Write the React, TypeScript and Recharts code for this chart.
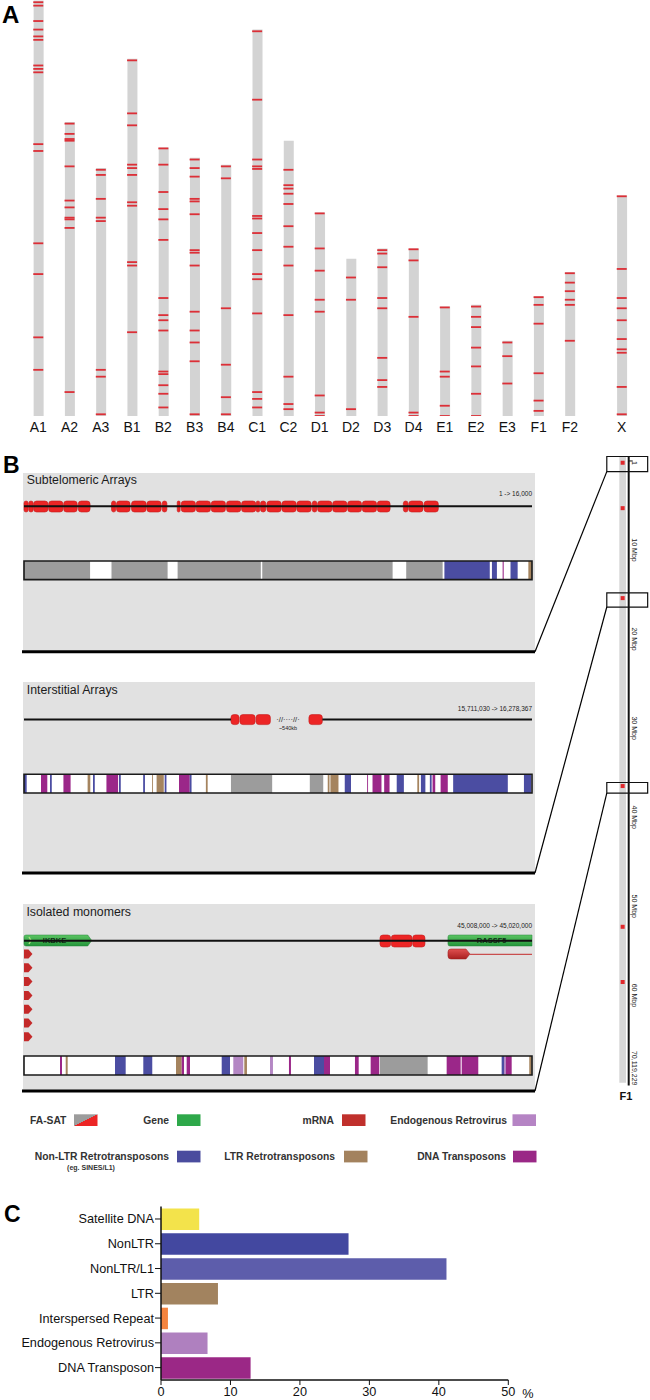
import React from 'react';
import { ComposedChart, BarChart, Bar, Scatter, XAxis, YAxis, Cell, ReferenceArea, ReferenceLine } from 'recharts';

const FONT = '"Liberation Sans", Arial, Helvetica, sans-serif';

// ---------- Panel A: FA-SAT hits along the cat chromosomes ----------
const chromNames = ['A1', 'A2', 'A3', 'B1', 'B2', 'B3', 'B4', 'C1', 'C2', 'D1', 'D2', 'D3', 'D4', 'E1', 'E2', 'E3', 'F1', 'F2', 'X'];
const chromLengthsMbp = [243, 172, 145, 209, 157, 151, 147, 226, 161, 119, 92, 98, 98, 64, 65, 44, 70, 84, 129];
// hit positions, Mbp measured from the top (p-ter) of each chromosome
const faSatHitsMbp = [
  [1, 3, 12, 17, 21, 23, 38, 40, 42, 84, 88, 142, 160, 197, 216],
  [1, 7, 10, 11, 26, 46, 50, 56, 57, 62, 158],
  [1, 4, 18, 29, 31, 118, 122, 144],
  [1, 32, 39, 62, 64, 68, 84, 86, 119, 121, 160],
  [0.5, 10, 26, 36, 42, 54, 88, 98, 101, 107, 131, 132.5, 139, 144, 152],
  [1, 6, 11, 24, 25.5, 33, 54, 55.5, 63, 90, 101, 108, 119, 150],
  [1, 8, 84, 117, 136, 146],
  [1, 41, 76, 80, 81.5, 109, 110.5, 119, 129, 143, 146, 166, 212, 216, 221],
  [17, 26, 28, 31, 37, 50, 62, 73, 102, 138, 154, 157],
  [0.5, 21, 34, 51, 58, 107, 117, 119],
  [11, 24, 88],
  [1, 3, 11, 29, 35, 64, 77, 81],
  [0.5, 7, 40, 96, 98],
  [0.5, 38, 41, 58, 64],
  [1, 7, 13, 25, 36, 52, 65],
  [1, 9, 25],
  [0.5, 5, 16, 45, 61, 67],
  [0.5, 6, 11, 16, 19, 40],
  [0.5, 43, 60, 66, 73, 84, 90, 92, 112, 128],
];

// ---------- Panel B: F1 ideogram ----------
const f1LengthMbp = 70.119229;
const f1HitsMbp = [0.2, 5.3, 15.4, 36.5, 52.3, 58.5];
const f1ZoomBoxesMbp = [[-0.5, 1.2], [14.8, 16.4], [36.1, 37.3]];
const f1Ticks = [0, 10, 20, 30, 40, 50, 60, 70.119229];
const f1TickLabels = ['1', '10 Mbp', '20 Mbp', '30 Mbp', '40 Mbp', '50 Mbp', '60 Mbp', '70,119,229'];

// ---------- Panel B: tracks ----------
// subtelomeric array, bp (1 -> 16,000)
const subtelMonomers = [
  [0, 130], [150, 290], [304, 754], [776, 1226], [1249, 1676], [1710, 2081],
  [2756, 2891], [2914, 3341], [3386, 3848], [3870, 4320], [4354, 4500],
  [4826, 4916], [4950, 5400], [5423, 5873], [5895, 6345], [6379, 6829], [6851, 7301], [7313, 7425],
  [7448, 7616], [7650, 8100], [8123, 8573], [8595, 9045], [9079, 9225], [9248, 9698], [9720, 10170], [10193, 10631], [10654, 11104], [11126, 11531],
  [11948, 12094], [12116, 12566], [12600, 13050],
];
const subtelRepeats: [string, number, number][] = [
  ['sat', 0, 2081], ['sat', 2756, 4523], ['sat', 4838, 7459], ['sat', 7504, 11610], ['sat', 12038, 13185],
  ['nonltr', 13241, 14670], ['nonltr', 14738, 14895], ['dna', 15075, 15109], ['nonltr', 15323, 15548], ['ltr', 15885, 16000],
];

// interstitial array, kb along the drawn track (15,711,030 -> 16,278,367)
const interMonomers = [[231, 240], [241, 258], [259, 275], [318, 333]];
const interLine = [[0, 231], [333, 567]];
const interRepeats: [string, number, number][] = [
  ['nonltr', 0, 3], ['dna', 19, 26], ['nonltr', 29, 31], ['dna', 44, 52], ['ltr', 71, 74], ['nonltr', 77, 79],
  ['dna', 92, 105], ['nonltr', 106, 108], ['nonltr', 133, 135], ['ltr', 143, 144], ['ltr', 148, 156], ['nonltr', 157, 159],
  ['dna', 173, 185], ['nonltr', 185, 187], ['ltr', 203, 205], ['sat', 231, 277], ['sat', 319, 334], ['ltr', 339, 341],
  ['ltr', 342, 351], ['nonltr', 358, 365], ['dna', 383, 384], ['dna', 389, 399], ['dna', 402, 408], ['nonltr', 416, 424],
  ['ltr', 439, 441], ['nonltr', 443, 448], ['nonltr', 453, 455], ['dna', 456, 459], ['dna', 465, 473], ['nonltr', 479, 540],
  ['nonltr', 558, 566],
];

// isolated monomers, bp (45,008,000 -> 45,020,000)
const isoGenes: [string, number, number][] = [['IKBKE', 0, 1600], ['RASSF5', 10015, 12000]];
const isoMonomers = [[8409, 8661], [8676, 9165], [9181, 9472]];
const isoRassf5mRNA = [10015, 10535, 12000];
const isoIkbkeIsoforms = [[0, 200], [0, 200], [0, 200], [0, 200], [0, 200], [0, 200], [0, 200]];
const isoRepeats: [string, number, number][] = [
  ['dna', 850, 898], ['ltr', 985, 1032], ['nonltr', 2150, 2402], ['nonltr', 2818, 3030], ['ltr', 3590, 3725],
  ['dna', 3725, 3779], ['dna', 3843, 3921], ['nonltr', 4670, 4866], ['erv', 4944, 5180], ['ltr', 5204, 5267],
  ['erv', 5811, 5881], ['dna', 6259, 6306], ['nonltr', 6850, 7086], ['dna', 7086, 7228], ['dna', 7818, 7906],
  ['dna', 8189, 8392], ['sat', 8409, 9535], ['dna', 9984, 10315], ['dna', 10339, 10731], ['nonltr', 11283, 11338],
  ['erv', 11338, 11385], ['dna', 11385, 11520], ['ltr', 11935, 11992],
];

// ---------- Panel C ----------
const repeatClasses = ['Satellite DNA', 'NonLTR', 'NonLTR/L1', 'LTR', 'Interspersed Repeat', 'Endogenous Retrovirus', 'DNA Transposon'];
const repeatPercent = [5.5, 27.0, 41.1, 8.2, 1.0, 6.7, 12.9];
const repeatBarColors = ['#f3e34b', '#4348a0', '#5d5dab', '#a2835f', '#f5843f', '#af80bf', '#9b2886'];

const repeatColor: Record<string, string> = {
  sat: '#9c9c9c', nonltr: '#4b4da2', ltr: '#a5845f', erv: '#b487c4', dna: '#9b2789',
};

const hitShape = (p: any) => <rect x={p.cx - 5} y={p.cy - 0.9} width={10} height={1.8} fill="#dc2f37" />;

const satShape = (p: any) => (
  <rect x={p.x} y={p.y} width={Math.max(p.width, 1)} height={p.height} rx={Math.min(3, p.width / 2)}
    fill="#ec2525" stroke="#c51c1c" strokeWidth={0.6} />
);

const geneShape = (label: string, pointed: boolean, labelFrac: number) => (p: any) => {
  const { x, y, width: w, height: h } = p;
  const tip = pointed ? 4 : 0;
  const d = `M${x + 2},${y} L${x + w - tip},${y} L${x + w},${y + h / 2} L${x + w - tip},${y + h} L${x + 2},${y + h} Q${x},${y + h} ${x},${y + h - 2} L${x},${y + 2} Q${x},${y} ${x + 2},${y} Z`;
  return (
    <g>
      <path d={d} fill="url(#geneGrad)" stroke="#23853a" strokeWidth={0.5} />
      {pointed && <path d={`M${x + 5},${y + 2} L${x + 7},${y + h / 2} L${x + 5},${y + h - 2}`} stroke="#a6e07e" strokeWidth={1.4} fill="none" />}
      <text x={x + w * labelFrac} y={y + h / 2 + 2.6} textAnchor="middle" fontSize={7.5} fontWeight="bold" fill="#0f2e16" fontFamily={FONT}>{label}</text>
    </g>
  );
};

const mrnaShape = (p: any) => {
  const { x, y, width: w, height: h } = p;
  const d = `M${x + 3},${y} L${x + w - 4},${y} L${x + w},${y + h / 2} L${x + w - 4},${y + h} L${x + 3},${y + h} Q${x},${y + h} ${x},${y + h - 3} L${x},${y + 3} Q${x},${y} ${x + 3},${y} Z`;
  return <path d={d} fill="url(#mrnaGrad)" stroke="#9a1f1f" strokeWidth={0.5} />;
};

const chevronShape = (p: any) => {
  const { x, y, width: w, height: h } = p;
  return <path d={`M${x},${y} L${x + w - 4},${y} L${x + w},${y + h / 2} L${x + w - 4},${y + h} L${x},${y + h} Z`} fill="#c42a2a" />;
};

function bandAreas(key: string, segs: [string, number, number][], y0: number, y1: number, max: number) {
  return [
    <ReferenceArea key={key + '-bg'} x1={0} x2={max} y1={y0} y2={y1} fill="#ffffff" fillOpacity={1} stroke="none" />,
    ...segs.map(([t, s, e], i) => (
      <ReferenceArea key={key + '-' + i} x1={s} x2={e} y1={y0} y2={y1} fill={repeatColor[t]} fillOpacity={1} stroke="none" />
    )),
    <ReferenceArea key={key + '-frame'} x1={0} x2={max} y1={y0} y2={y1} fill="none" fillOpacity={0} stroke="#1a1a1a" strokeWidth={1.6} />,
  ];
}

// panel geometry (page px)
const SUB = { top: 472.7, bottom: 651.7 };
const INT = { top: 681.7, bottom: 873 };
const ISO = { top: 904, bottom: 1091 };
const IDEO = { left: 596, top: 456.5, bottom: 1085.5, axisX: 628.7 };
const IDEO_BOX_X = [3.3, 15.8];
const ideoY = (m: number) => IDEO.top + ((m + 0.5) / (f1LengthMbp + 0.5)) * (IDEO.bottom - IDEO.top);

function Track({ top, bottom, max, children }: any) {
  const h = bottom - top;
  return (
    <div style={{ position: 'absolute', left: 22, top }}>
      <ComposedChart width={514} height={h} data={[]} margin={{ top: 0, right: 4, bottom: 0, left: 2 }}>
        <defs>
          <linearGradient id="geneGrad" x1="0" y1="0" x2="0" y2="1">
            <stop offset="0%" stopColor="#5cc463" />
            <stop offset="100%" stopColor="#23953a" />
          </linearGradient>
          <linearGradient id="mrnaGrad" x1="0" y1="0" x2="0" y2="1">
            <stop offset="0%" stopColor="#e05050" />
            <stop offset="100%" stopColor="#a81f1f" />
          </linearGradient>
        </defs>
        <XAxis type="number" dataKey="x" domain={[0, max]} hide allowDataOverflow />
        <YAxis type="number" dataKey="y" domain={[0, h]} reversed hide allowDataOverflow />
        {children}
      </ComposedChart>
    </div>
  );
}

const IdeoTick = (props: any) => {
  const { x, y, index } = props;
  const last = index === f1TickLabels.length - 1;
  return (
    <g>
      {index === 0 && <line x1={x - 3} y1={y} x2={x + 1} y2={y} stroke="#111" strokeWidth={1} />}
      <text x={x} y={y} transform={`rotate(90, ${x}, ${y})`} textAnchor={index === 0 ? 'start' : last ? 'end' : 'middle'}
        fontSize={7} fill="#222" fontFamily={FONT}>{f1TickLabels[index]}</text>
    </g>
  );
};

function ChromosomePanel() {
  const data = chromNames.map((name, i) => ({ name, pos: i < 18 ? i : 18.66, len: chromLengthsMbp[i] }));
  const hits = data.flatMap((d, i) => faSatHitsMbp[i].map((p) => ({ pos: d.pos, val: d.len - p })));
  return (
    <div style={{ position: 'absolute', left: 0, top: 0 }}>
      <ComposedChart width={650} height={440} data={data} margin={{ top: 0, right: 2, bottom: 0, left: 7 }}>
        <XAxis type="number" dataKey="pos" domain={[-1, 19.5]} ticks={data.map((d) => d.pos)} interval={0}
          tickFormatter={(v: number, i: number) => chromNames[i]} axisLine={false} tickLine={false} tickSize={4}
          height={24} tick={{ fontSize: 14, fill: '#111', fontFamily: FONT }} allowDataOverflow />
        <YAxis type="number" domain={[0, 243.3]} hide allowDataOverflow />
        <Bar dataKey="len" barSize={10} fill="#d3d3d3" isAnimationActive={false} />
        <Scatter data={hits} dataKey="val" shape={hitShape} isAnimationActive={false} />
      </ComposedChart>
    </div>
  );
}

function IdeogramF1() {
  const hits = f1HitsMbp.map((m) => ({ x: 8.15, y: m }));
  return (
    <div style={{ position: 'absolute', left: IDEO.left, top: 440 }}>
      <ComposedChart width={54} height={650.5} data={hits} margin={{ top: IDEO.top - 440, right: 0, bottom: 650.5 - (IDEO.bottom - 440), left: 0 }}>
        <XAxis type="number" dataKey="x" domain={[0, 10]} hide allowDataOverflow />
        <YAxis type="number" dataKey="y" orientation="right" width={650 - IDEO.axisX} reversed domain={[-0.5, f1LengthMbp]}
          ticks={f1Ticks} interval={0} allowDataOverflow tickLine={false} tickSize={0} tickMargin={3}
          axisLine={{ stroke: '#111', strokeWidth: 2 }} tick={<IdeoTick />} />
        <ReferenceArea x1={7.13} x2={9.17} y1={-0.5} y2={69.8} fill="#d6d6d6" fillOpacity={1} stroke="none" />
        <Scatter dataKey="y" isAnimationActive={false}
          shape={(p: any) => <rect x={p.cx - 2} y={p.cy - 2} width={4} height={4} fill="#e0282c" />} />
        {f1ZoomBoxesMbp.map(([a, b], i) => (
          <ReferenceArea key={i} x1={IDEO_BOX_X[0]} x2={IDEO_BOX_X[1]} y1={a} y2={b} fill="none" fillOpacity={0}
            stroke="#111" strokeWidth={1.2} ifOverflow="visible" />
        ))}
      </ComposedChart>
    </div>
  );
}

function RepeatBars() {
  const data = repeatClasses.map((name, i) => ({ name, pct: repeatPercent[i] }));
  const tickStyle = { fontSize: 12.7, fill: '#111', fontFamily: FONT };
  return (
    <div style={{ position: 'absolute', left: 0, top: 1200 }}>
      <BarChart layout="vertical" width={560} height={200} data={data} margin={{ top: 6.6, right: 51.7, bottom: 0, left: 0 }}>
        <XAxis type="number" domain={[0, 50]} ticks={[0, 10, 20, 30, 40, 50]} allowDataOverflow height={20}
          tickSize={5} tickMargin={2} axisLine={{ stroke: '#111', strokeWidth: 1.5 }} tickLine={{ stroke: '#111' }} tick={tickStyle} />
        <YAxis type="category" dataKey="name" width={161} tickSize={6} tickMargin={1} interval={0}
          axisLine={{ stroke: '#111', strokeWidth: 1.5 }} tickLine={{ stroke: '#111' }} tick={tickStyle} />
        <Bar dataKey="pct" barSize={21.5} isAnimationActive={false}>
          {data.map((d, i) => <Cell key={d.name} fill={repeatBarColors[i]} />)}
        </Bar>
      </BarChart>
    </div>
  );
}

const legendRow1 = [
  { label: 'FA-SAT', end: 66.4, sw: 74, color: 'fasat' },
  { label: 'Gene', end: 169, sw: 177, color: '#2ea84a' },
  { label: 'mRNA', end: 334, sw: 342, color: '#c0302c' },
  { label: 'Endogenous Retrovirus', end: 507, sw: 512.5, color: '#b584c4' },
];
const legendRow2 = [
  { label: 'Non-LTR Retrotransposons', end: 169, sw: 177, color: '#4a4c9e' },
  { label: 'LTR Retrotransposons', end: 335, sw: 344, color: '#a3825e' },
  { label: 'DNA Transposons', end: 506, sw: 513, color: '#9a2886' },
];

export default function App() {
  const panels = [SUB, INT, ISO];
  return (
    <div style={{ position: 'absolute', left: 0, top: 0, width: 650, height: 1400, background: '#fff', fontFamily: FONT }}>
      {panels.map((p, i) => (
        <div key={i} style={{ position: 'absolute', left: 22.5, top: p.top, width: 512.5, height: p.bottom - p.top, background: '#e1e1e1' }} />
      ))}

      <ChromosomePanel />

      <Track top={SUB.top} bottom={SUB.bottom} max={16000}>
        <ReferenceLine segment={[{ x: 0, y: 33.3 }, { x: 16000, y: 33.3 }]} stroke="#111" strokeWidth={2} />
        {subtelMonomers.map(([s, e], i) => (
          <ReferenceArea key={'m' + i} x1={s} x2={e} y1={28} y2={39} shape={satShape} />
        ))}
        {bandAreas('sub', subtelRepeats, 88, 106.6, 16000)}
      </Track>

      <Track top={INT.top} bottom={INT.bottom} max={567}>
        {interLine.map(([s, e], i) => (
          <ReferenceLine key={'l' + i} segment={[{ x: s, y: 37.6 }, { x: e, y: 37.6 }]} stroke="#111" strokeWidth={2} />
        ))}
        {interMonomers.map(([s, e], i) => (
          <ReferenceArea key={'m' + i} x1={s} x2={e} y1={32.6} y2={42.6} shape={satShape} />
        ))}
        {bandAreas('int', interRepeats, 92.3, 111, 567)}
      </Track>

      <Track top={ISO.top} bottom={ISO.bottom} max={12000}>
        <ReferenceLine segment={[{ x: 0, y: 36.7 }, { x: 12000, y: 36.7 }]} stroke="#111" strokeWidth={2} />
        {isoGenes.map(([name, s, e], i) => (
          <ReferenceArea key={'g' + i} x1={s} x2={e} y1={31} y2={42} shape={geneShape(name, i === 0, i === 0 ? 0.45 : 0.52)} />
        ))}
        {isoMonomers.map(([s, e], i) => (
          <ReferenceArea key={'m' + i} x1={s} x2={e} y1={31} y2={43} shape={satShape} />
        ))}
        <ReferenceLine segment={[{ x: isoRassf5mRNA[1], y: 50.3 }, { x: isoRassf5mRNA[2], y: 50.3 }]} stroke="#c42a2a" strokeWidth={1} />
        <ReferenceArea x1={isoRassf5mRNA[0]} x2={isoRassf5mRNA[1]} y1={45} y2={55} shape={mrnaShape} />
        {isoIkbkeIsoforms.map(([s, e], i) => (
          <ReferenceArea key={'c' + i} x1={s} x2={e} y1={45.5 + i * 13.8} y2={54.5 + i * 13.8} shape={chevronShape} />
        ))}
        {bandAreas('iso', isoRepeats, 152, 171, 12000)}
      </Track>

      <IdeogramF1 />
      <RepeatBars />

      <svg width={650} height={1400} style={{ position: 'absolute', left: 0, top: 0, pointerEvents: 'none' }}>
        <defs>
          <linearGradient id="fasatSw" x1="0" y1="0" x2="1" y2="1">
            <stop offset="50%" stopColor="#9c9c9c" />
            <stop offset="50%" stopColor="#ec2525" />
          </linearGradient>
        </defs>
        <g fontFamily={FONT} fontWeight="bold" fill="#000">
          <text x={2} y={22.7} fontSize={24}>A</text>
          <text x={3} y={473.3} fontSize={23}>B</text>
          <text x={4} y={1221.7} fontSize={23}>C</text>
        </g>
        <g fontFamily={FONT} fill="#1c1c1c" fontSize={12.3}>
          <text x={26.8} y={483.6}>Subtelomeric Arrays</text>
          <text x={26.8} y={693.8}>Interstitial Arrays</text>
          <text x={26.4} y={916}>Isolated monomers</text>
        </g>
        <g fontFamily={FONT} fill="#222" fontSize={6.5} textAnchor="end">
          <text x={532} y={496.4}>1 -&gt; 16,000</text>
          <text x={532} y={711.4}>15,711,030 -&gt; 16,278,367</text>
          <text x={532} y={928.4}>45,008,000 -&gt; 45,020,000</text>
        </g>
        <text x={288} y={721.8} fontSize={7.5} textAnchor="middle" fill="#222" fontFamily={FONT}>·//····//·</text>
        <text x={288} y={729.6} fontSize={5.5} textAnchor="middle" fill="#222" fontFamily={FONT}>~540kb</text>

        {[SUB, INT, ISO].map((p, i) => {
          const boxBottom = ideoY(f1ZoomBoxesMbp[i][1]);
          const boxLeft = IDEO.left + (IDEO_BOX_X[0] / 10) * (IDEO.axisX - IDEO.left);
          return (
            <g key={i}>
              <line x1={22} y1={p.bottom} x2={535} y2={p.bottom} stroke="#000" strokeWidth={3} />
              <line x1={535} y1={p.bottom} x2={boxLeft} y2={boxBottom} stroke="#000" strokeWidth={1.2} />
            </g>
          );
        })}

        <text x={626} y={1100} fontSize={11} fontWeight="bold" textAnchor="middle" fill="#111" fontFamily={FONT}>F1</text>

        <g fontFamily={FONT} fontWeight="bold" fill="#333" fontSize={10.3} textAnchor="end">
          {legendRow1.map((l) => <text key={l.label} x={l.end} y={1123.8}>{l.label}</text>)}
          {legendRow2.map((l) => <text key={l.label} x={l.end} y={1159.9}>{l.label}</text>)}
          <text x={91} y={1170.3} fontSize={7} textAnchor="middle">(eg. SINES/L1)</text>
        </g>
        {legendRow1.map((l) => (
          <rect key={l.label} x={l.sw} y={1114.3} width={23.5} height={11.7} fill={l.color === 'fasat' ? 'url(#fasatSw)' : l.color} />
        ))}
        {legendRow2.map((l) => (
          <rect key={l.label} x={l.sw} y={1150.7} width={23.5} height={11.7} fill={l.color} />
        ))}

        <text x={527.8} y={1398} fontSize={12.7} textAnchor="middle" fill="#111" fontFamily={FONT}>%</text>
      </svg>
    </div>
  );
}
